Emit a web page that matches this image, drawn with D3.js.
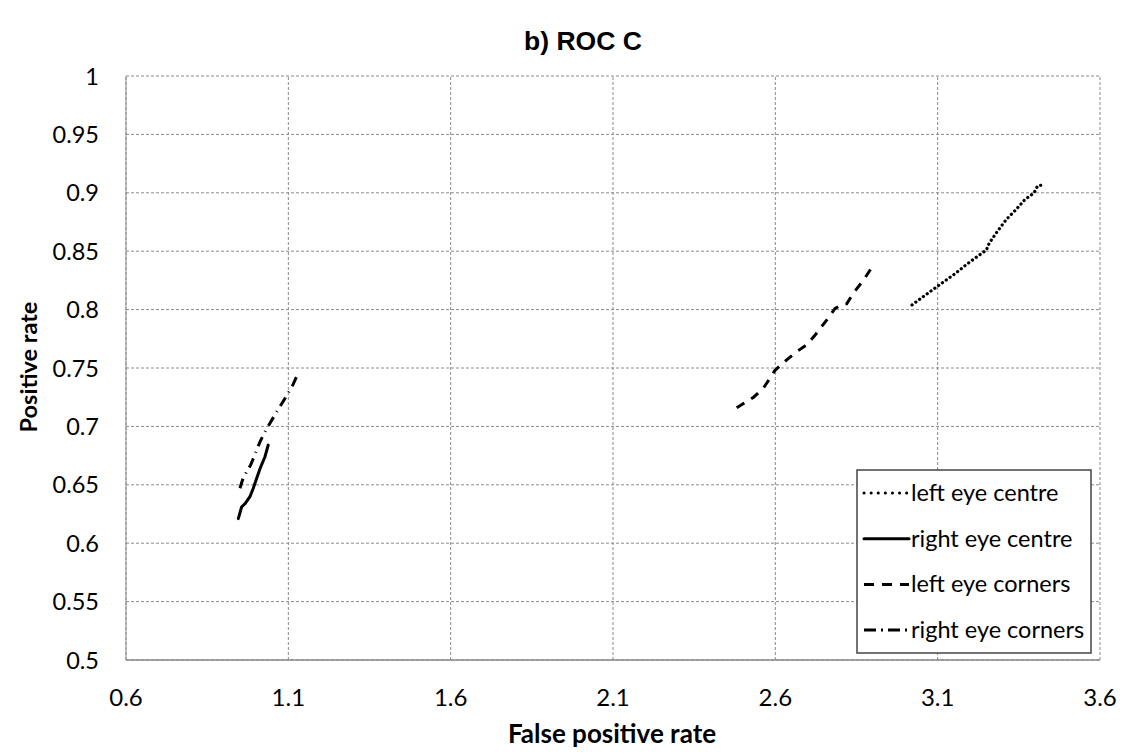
<!DOCTYPE html>
<html>
  <head>
    <meta charset="utf-8" />
    <script src="https://d3js.org/d3.v7.min.js"></script>
    <style>
      body { margin: 0; background: #fff; }
      text { font-family: Lato, "Open Sans", sans-serif; fill: #000; }
    </style>
  </head>
  <body>
    <div id="chart"></div>
    <script>
      const width = 1141;
      const height = 754;
      const margin = { top: 76, right: 41, bottom: 94, left: 126 };

      const xTicks = [0.6, 1.1, 1.6, 2.1, 2.6, 3.1, 3.6];
      const yTicks = [0.5, 0.55, 0.6, 0.65, 0.7, 0.75, 0.8, 0.85, 0.9, 0.95, 1];

      const leftCentreX = [3.021, 3.06, 3.10, 3.15, 3.20, 3.25, 3.259, 3.284, 3.311, 3.339, 3.368, 3.397, 3.408, 3.428];
      const leftCentreY = [0.804, 0.812, 0.820, 0.830, 0.841, 0.851, 0.857, 0.867, 0.877, 0.885, 0.894, 0.900, 0.906, 0.907];

      const rightCentreX = [0.946, 0.956, 0.967, 0.982, 0.992, 1.003, 1.013, 1.028, 1.038];
      const rightCentreY = [0.621, 0.631, 0.634, 0.640, 0.647, 0.656, 0.664, 0.674, 0.684];

      const leftCornersX = [2.481, 2.533, 2.564, 2.599, 2.635, 2.666, 2.697, 2.722, 2.758, 2.784, 2.810, 2.820, 2.840, 2.871, 2.904];
      const leftCornersY = [0.716, 0.725, 0.733, 0.748, 0.757, 0.764, 0.770, 0.778, 0.791, 0.801, 0.805, 0.805, 0.814, 0.825, 0.839];

      const rightCornersX = [0.951, 0.961, 0.984, 1.013, 1.031, 1.059, 1.072, 1.092, 1.113, 1.131];
      const rightCornersY = [0.647, 0.656, 0.667, 0.687, 0.697, 0.710, 0.716, 0.725, 0.735, 0.746];

      const series = [
        { name: "left eye centre", xs: leftCentreX, ys: leftCentreY, dash: "0.1,4.6", legendDash: "0.1,7", cap: "round" },
        { name: "right eye centre", xs: rightCentreX, ys: rightCentreY, dash: null, legendDash: null, cap: "round" },
        { name: "left eye corners", xs: leftCornersX, ys: leftCornersY, dash: "9,8", legendDash: "10,8", cap: "butt" },
        { name: "right eye corners", xs: rightCornersX, ys: rightCornersY, dash: "10,6,1,6", legendDash: "12,5,2,5", cap: "butt" },
      ];

      const svg = d3.select("#chart").append("svg").attr("width", width).attr("height", height);

      const x = d3.scaleLinear().domain([0.6, 3.6]).range([margin.left, width - margin.right]);
      const y = d3.scaleLinear().domain([0.5, 1]).range([height - margin.bottom, margin.top]);

      // gridlines
      svg.append("g")
        .selectAll("line")
        .data(xTicks)
        .join("line")
        .attr("x1", (d) => x(d))
        .attr("x2", (d) => x(d))
        .attr("y1", y(0.5))
        .attr("y2", y(1))
        .attr("stroke", "#8a8a8a")
        .attr("stroke-dasharray", "3,2");
      svg.append("g")
        .selectAll("line")
        .data(yTicks)
        .join("line")
        .attr("x1", x(0.6))
        .attr("x2", x(3.6))
        .attr("y1", (d) => y(d))
        .attr("y2", (d) => y(d))
        .attr("stroke", "#8a8a8a")
        .attr("stroke-dasharray", "3,2");

      // axis lines
      svg.append("line")
        .attr("x1", x(0.6)).attr("x2", x(3.6))
        .attr("y1", y(0.5)).attr("y2", y(0.5))
        .attr("stroke", "#8a8a8a").attr("stroke-width", 1.5);
      svg.append("line")
        .attr("x1", x(0.6)).attr("x2", x(0.6))
        .attr("y1", y(0.5)).attr("y2", y(1))
        .attr("stroke", "#8a8a8a").attr("stroke-width", 1);

      // tick labels
      svg.append("g")
        .selectAll("text")
        .data(xTicks)
        .join("text")
        .attr("x", (d) => x(d))
        .attr("y", 706)
        .attr("text-anchor", "middle")
        .style("font-size", "24px")
        .text((d) => d);
      svg.append("g")
        .selectAll("text")
        .data(yTicks)
        .join("text")
        .attr("x", 99)
        .attr("y", (d) => y(d) + 8.5)
        .attr("text-anchor", "end")
        .style("font-size", "23.5px")
        .text((d) => d);

      // titles
      svg.append("text")
        .attr("x", 583).attr("y", 50)
        .attr("text-anchor", "middle")
        .style("font-family", "'Liberation Sans', Arial, sans-serif")
        .style("font-weight", "bold")
        .style("font-size", "26.5px")
        .text("b) ROC C");
      svg.append("text")
        .attr("x", 612).attr("y", 743)
        .attr("text-anchor", "middle")
        .style("font-weight", "bold")
        .style("font-size", "26px")
        .text("False positive rate");
      svg.append("text")
        .attr("transform", "translate(37,367) rotate(-90)")
        .attr("text-anchor", "middle")
        .style("font-weight", "bold")
        .style("font-size", "23.5px")
        .text("Positive rate");

      // lines
      const line = d3.line().x((d) => x(d[0])).y((d) => y(d[1]));
      svg.append("g")
        .selectAll("path")
        .data(series)
        .join("path")
        .attr("d", (s) => line(s.xs.map((v, i) => [v, s.ys[i]])))
        .attr("fill", "none")
        .attr("stroke", "#000")
        .attr("stroke-width", (s) => (s.cap === "round" && s.dash ? 3.2 : 3))
        .attr("stroke-linecap", (s) => s.cap)
        .attr("stroke-dasharray", (s) => s.dash);

      // legend
      const lg = svg.append("g").attr("transform", "translate(857,470)");
      lg.append("rect")
        .attr("width", 234).attr("height", 183)
        .attr("fill", "#fff")
        .attr("stroke", "#444").attr("stroke-width", 1.5);
      const items = lg.selectAll("g.item")
        .data(series)
        .join("g")
        .attr("class", "item")
        .attr("transform", (d, i) => `translate(0,${23 + i * 45.7})`);
      items.append("line")
        .attr("x1", 7).attr("x2", 52)
        .attr("y1", 0).attr("y2", 0)
        .attr("stroke", "#000")
        .attr("stroke-width", 3)
        .attr("stroke-linecap", (s) => s.cap)
        .attr("stroke-dasharray", (s) => s.legendDash);
      items.append("text")
        .attr("x", 54).attr("y", 8)
        .style("font-size", "23.5px")
        .text((d) => d.name);
    </script>
  </body>
</html>
